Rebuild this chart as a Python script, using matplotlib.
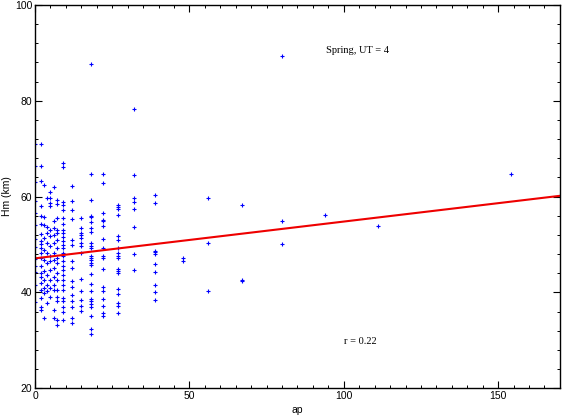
import numpy as np
import matplotlib
matplotlib.use("Agg")
import matplotlib.pyplot as plt
from matplotlib.ticker import MultipleLocator

# Hm (km) values, grouped by ap value
hm_ap0 = [70.9, 66.4, 63.0, 59.0, 56.5, 54.0, 51.2, 49.5, 47.0, 45.5, 44.3, 41.5, 38.0]
hm_ap2 = [70.9, 66.3, 63.2, 58.0, 55.9, 54.3, 52.2, 50.8, 50.0, 49.3, 48.2, 47.2,
          45.4, 44.0, 43.3, 41.9, 40.5, 38.8, 37.0, 36.3]
hm_ap3 = [62.5, 55.7, 54.1, 51.3, 48.9, 46.8, 44.4, 42.6, 40.9, 39.8, 34.6]
hm_ap4 = [59.7, 53.6, 52.4, 50.3, 48.2, 46.1, 43.7, 41.6, 40.2, 37.7]
hm_ap5 = [61.0, 59.7, 58.7, 58.0, 53.1, 51.7, 49.6, 47.5, 46.5, 44.7, 42.6, 40.9, 39.1]
hm_ap6 = [62.0, 55.0, 53.5, 52.0, 50.3, 48.2, 46.8, 45.1, 43.3, 41.6, 40.5, 36.3, 34.6]
hm_ap7 = [59.2, 58.5, 55.5, 53.1, 52.4, 51.0, 49.3, 47.2, 46.1, 44.0, 42.6, 40.5,
          39.1, 38.1, 34.2, 33.2]
hm_ap9 = [67.0, 66.1, 58.9, 58.2, 57.1, 55.5, 54.3, 53.1, 52.4, 51.5, 50.8, 49.9,
          49.2, 48.2, 47.5, 46.5, 45.6, 44.7, 43.7, 42.6, 41.5, 40.5, 38.8, 38.1,
          37.0, 36.0, 34.2]
hm_ap12 = [62.2, 59.0, 57.1, 55.3, 51.0, 49.9, 46.5, 45.1, 42.3, 41.2, 39.5, 38.1,
           37.0, 34.6, 33.5]
hm_ap15 = [55.5, 53.4, 52.3, 52.0, 51.3, 50.3, 49.7, 48.2, 42.8, 40.2, 38.4, 37.2, 36.1]
hm_ap18 = [87.6, 64.8, 59.2, 56.0, 55.7, 54.6, 53.4, 52.5, 50.4, 49.6, 49.3, 47.6,
           47.2, 46.7, 46.2, 45.8, 43.9, 41.8, 40.2, 38.6, 38.1, 37.6, 36.9, 35.1,
           32.4, 31.3]
hm_ap22 = [64.8, 62.9, 56.6, 55.2, 54.8, 53.8, 51.1, 49.3, 47.5, 47.2, 44.9, 41.2,
           40.2, 38.6, 37.2, 35.6, 35.1]
hm_ap27 = [58.3, 57.8, 57.3, 56.1, 51.8, 51.0, 49.3, 48.2, 47.6, 47.2, 44.9, 44.4,
           44.0, 40.7, 39.7, 37.7, 37.2, 35.6]
hm_ap32 = [78.2, 64.4, 59.6, 58.8, 57.5, 53.7, 48.0, 44.7]
hm_ap39 = [60.4, 58.7, 48.7, 48.4, 48.1, 46.0, 44.2, 41.6, 40.0, 38.5]
hm_ap48 = [47.1, 46.5]
hm_ap56 = [59.6, 50.4, 40.3]
hm_ap67 = [58.2, 42.3, 42.5]
hm_ap80 = [89.3, 54.8, 50.0]
hm_ap94 = [56.2]
hm_ap111 = [53.8]
hm_ap154 = [64.8]

columns = {0: hm_ap0, 2: hm_ap2, 3: hm_ap3, 4: hm_ap4, 5: hm_ap5, 6: hm_ap6,
           7: hm_ap7, 9: hm_ap9, 12: hm_ap12, 15: hm_ap15, 18: hm_ap18,
           22: hm_ap22, 27: hm_ap27, 32: hm_ap32, 39: hm_ap39, 48: hm_ap48,
           56: hm_ap56, 67: hm_ap67, 80: hm_ap80, 94: hm_ap94, 111: hm_ap111,
           154: hm_ap154}

ap = np.concatenate([[k] * len(v) for k, v in columns.items()])
hm = np.concatenate([v for v in columns.values()])

# linear fit
fit_intercept = 47.1
fit_slope = 0.0768
r_value = 0.22

fig = plt.figure(figsize=(5.65, 4.16), dpi=100)
ax = fig.add_axes([0.062, 0.067, 0.929, 0.921])

ax.plot(ap, hm, linestyle='none', marker='+', markersize=2.6, mew=0.8, color='#0000ff')
xfit = np.array([0, 170])
ax.plot(xfit, fit_intercept + fit_slope * xfit, color='#ee0000', lw=1.5)

ax.set_xlim(0, 170)
ax.set_ylim(20, 100)
ax.xaxis.set_major_locator(MultipleLocator(50))
ax.xaxis.set_minor_locator(MultipleLocator(5))
ax.yaxis.set_major_locator(MultipleLocator(20))
ax.yaxis.set_minor_locator(MultipleLocator(4))
ax.tick_params(which='both', direction='in', top=True, right=True,
               labelsize=7.5, pad=2)
ax.tick_params(which='major', length=5, width=0.8)
ax.tick_params(which='minor', length=2.5, width=0.7)
for lab in ax.get_xticklabels() + ax.get_yticklabels():
    lab.set_fontfamily('Liberation Sans')
for s in ax.spines.values():
    s.set_linewidth(1.0)

ax.set_xlabel('ap', fontsize=7.5, family='Liberation Sans', labelpad=3)
ax.set_ylabel('Hm (km)', fontsize=7.5, family='Liberation Sans', labelpad=2)

ax.text(104.6, 90.4, 'Spring, UT = 4', ha='center', va='center',
        fontsize=7.5, family='Liberation Serif')
ax.text(105.3, 29.8, f'r = {r_value:.2f}', ha='center', va='center',
        fontsize=7.5, family='Liberation Serif')

fig.savefig('out.png', dpi=100)
